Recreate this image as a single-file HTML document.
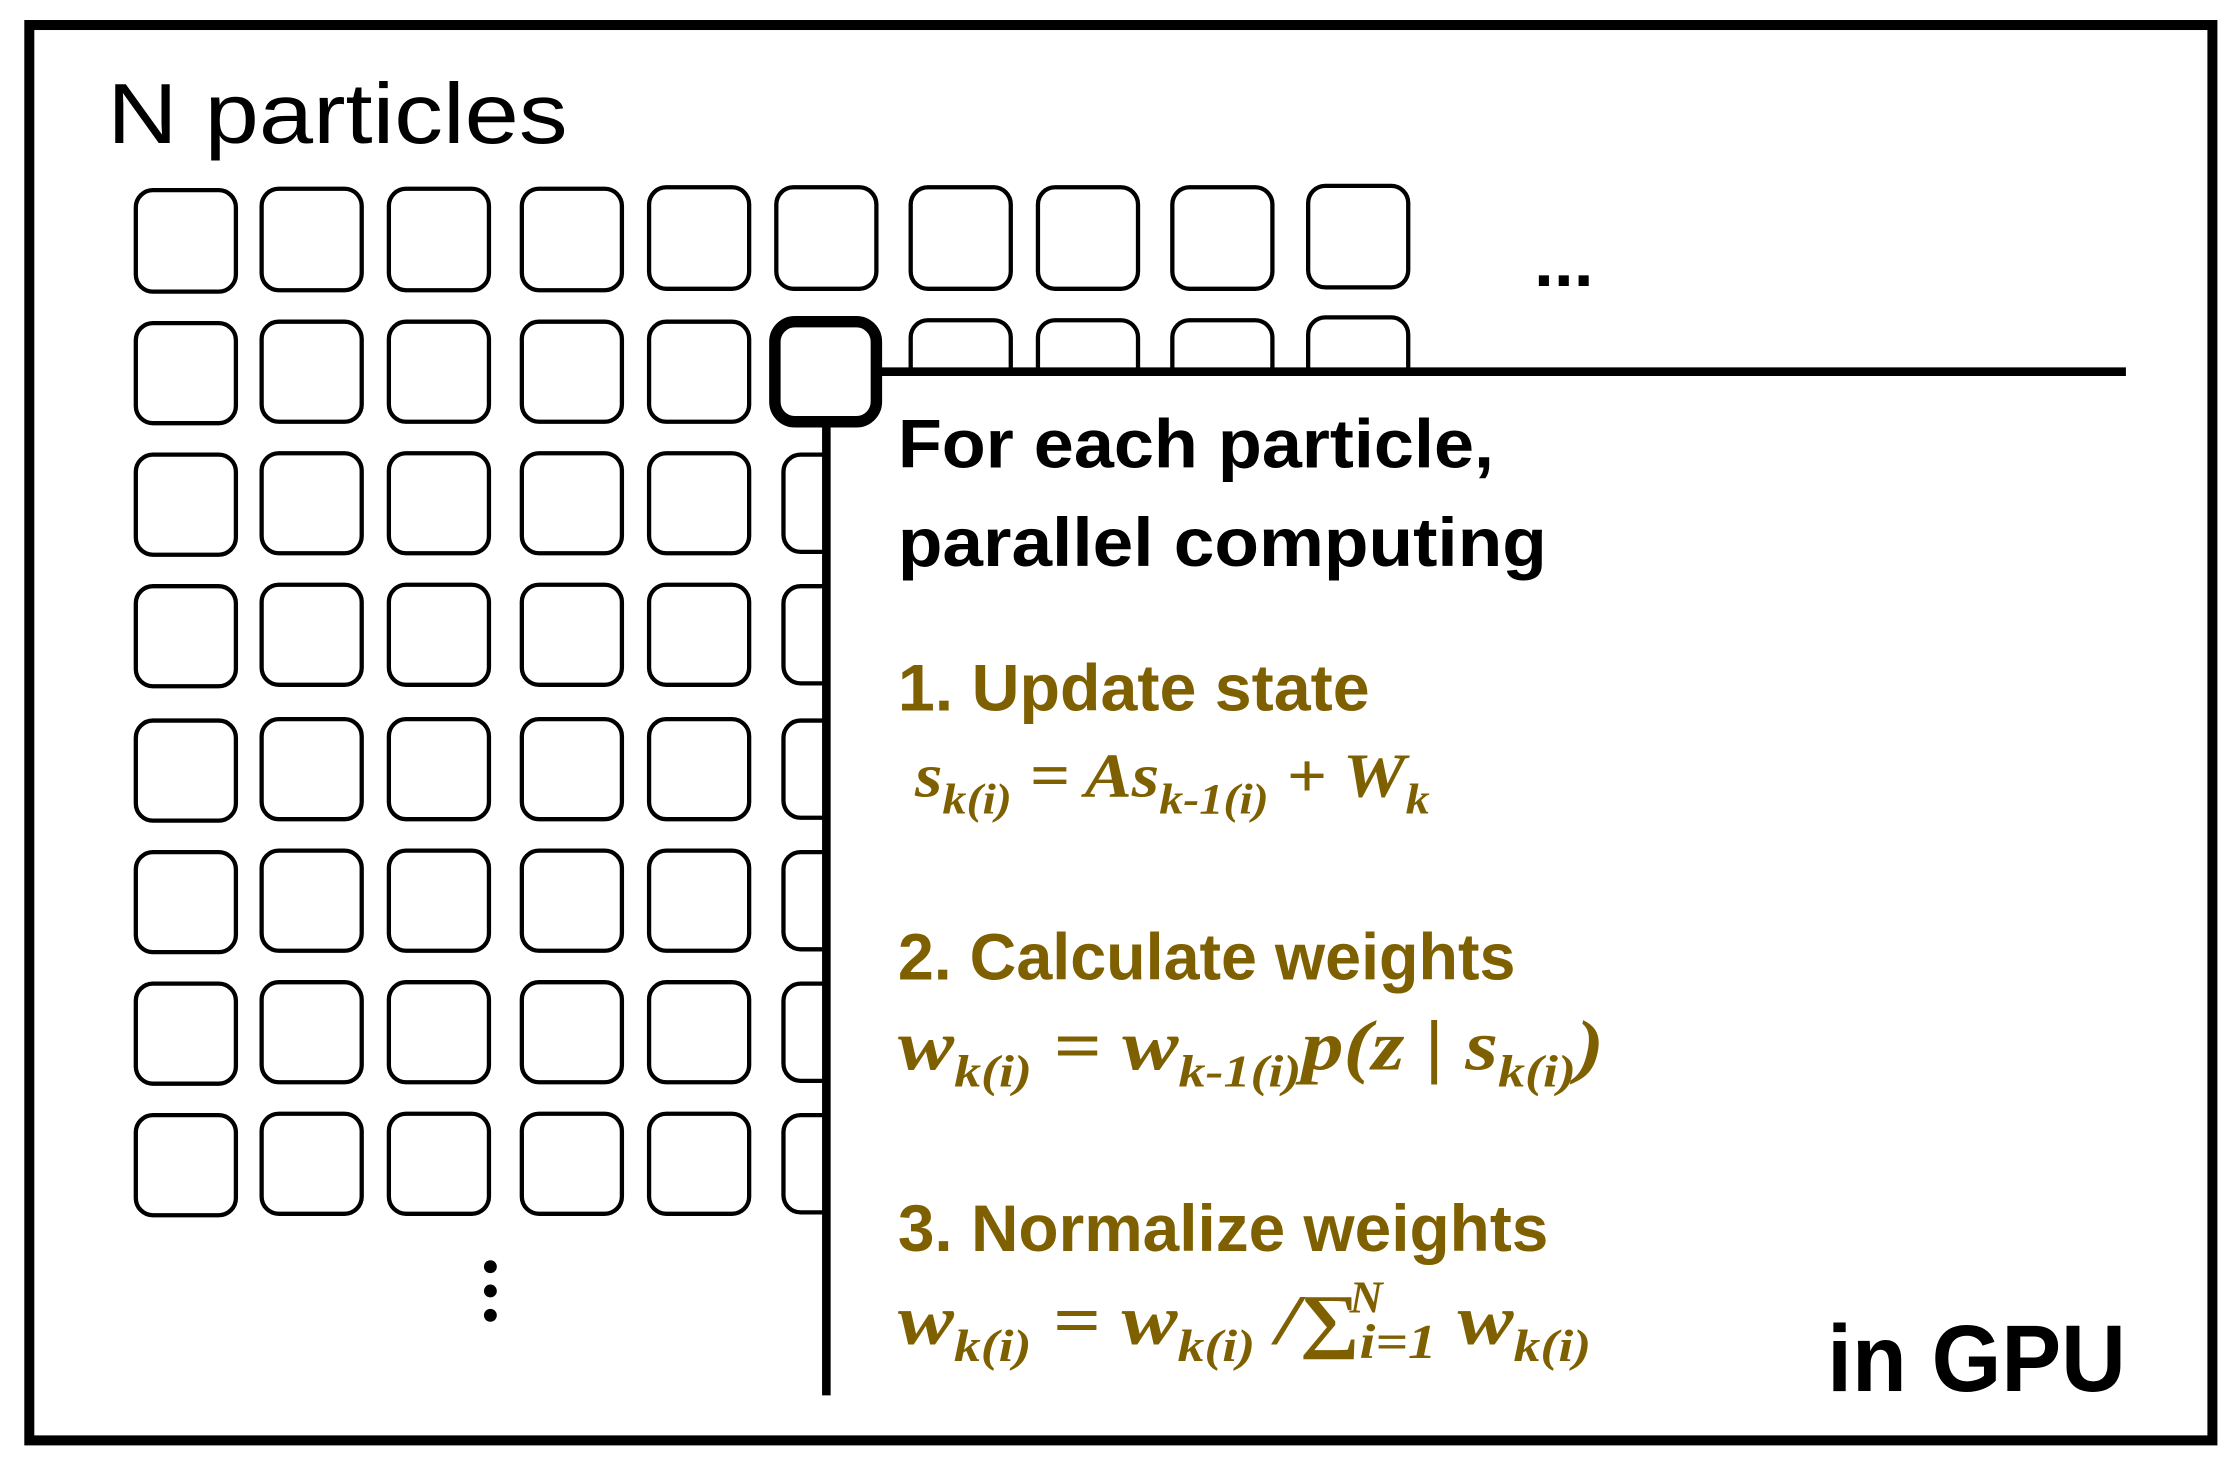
<!DOCTYPE html>
<html><head><meta charset="utf-8"><style>html,body{margin:0;padding:0;background:#fff}svg{display:block}</style></head>
<body>
<svg width="2236" height="1476" viewBox="0 0 1564 1032.4" xmlns="http://www.w3.org/2000/svg">
<defs>
<clipPath id="cv"><rect x="0" y="0" width="578" height="1032"/></clipPath>
<clipPath id="ch"><rect x="0" y="0" width="1564" height="263"/></clipPath>
</defs>
<rect x="20.5" y="17.5" width="1527" height="990" fill="none" stroke="#000" stroke-width="7"/>
<text x="75" y="100" font-family="Liberation Sans, sans-serif" font-size="60" textLength="322" lengthAdjust="spacingAndGlyphs">N particles</text>
<g fill="none" stroke="#000" stroke-width="3">
<!-- row 1 -->
<rect x="95" y="133" width="70" height="71" rx="12"/>
<rect x="183" y="132" width="70" height="71" rx="12"/>
<rect x="272" y="132" width="70" height="71" rx="12"/>
<rect x="365" y="132" width="70" height="71" rx="12"/>
<rect x="454" y="131" width="70" height="71" rx="12"/>
<rect x="543" y="131" width="70" height="71" rx="12"/>
<rect x="637" y="131" width="70" height="71" rx="12"/>
<rect x="726" y="131" width="70" height="71" rx="12"/>
<rect x="820" y="131" width="70" height="71" rx="12"/>
<rect x="915" y="130" width="70" height="71" rx="12"/>
<!-- rows 2-8 columns 1-5 -->
<g id="c">
<rect x="95" y="226" width="70" height="70" rx="12"/>
<rect x="183" y="225" width="70" height="70" rx="12"/>
<rect x="272" y="225" width="70" height="70" rx="12"/>
<rect x="365" y="225" width="70" height="70" rx="12"/>
<rect x="454" y="225" width="70" height="70" rx="12"/>
</g>
<use href="#c" y="92"/>
<use href="#c" y="184"/>
<use href="#c" y="278"/>
<use href="#c" y="370"/>
<use href="#c" y="462"/>
<use href="#c" y="554"/>
<!-- column 6 clipped -->
<g clip-path="url(#cv)">
<rect x="548" y="318" width="70" height="68" rx="12"/>
<rect x="548" y="410" width="70" height="68" rx="12"/>
<rect x="548" y="504" width="70" height="68" rx="12"/>
<rect x="548" y="596" width="70" height="68" rx="12"/>
<rect x="548" y="688" width="70" height="68" rx="12"/>
<rect x="548" y="780" width="70" height="68" rx="12"/>
</g>
<!-- row 2 clipped -->
<g clip-path="url(#ch)">
<rect x="637" y="224" width="70" height="70" rx="12"/>
<rect x="726" y="224" width="70" height="70" rx="12"/>
<rect x="820" y="224" width="70" height="70" rx="12"/>
<rect x="915" y="222" width="70" height="70" rx="12"/>
</g>
</g>
<rect x="542" y="225" width="71" height="70" rx="14" fill="none" stroke="#000" stroke-width="8"/>
<line x1="612" y1="260" x2="1487" y2="260" stroke="#000" stroke-width="6"/>
<line x1="578" y1="295" x2="578" y2="976" stroke="#000" stroke-width="6"/>
<text x="1073" y="200" font-family="Liberation Sans, sans-serif" font-size="50" font-weight="bold">...</text>
<g fill="#000"><circle cx="343" cy="886" r="4.5"/><circle cx="343" cy="903" r="4.5"/><circle cx="343" cy="920" r="4.5"/></g>
<g font-family="Liberation Sans, sans-serif" font-weight="bold">
<text x="628" y="327" font-size="48" textLength="417" lengthAdjust="spacingAndGlyphs">For each particle,</text>
<text x="628" y="396" font-size="48" textLength="454" lengthAdjust="spacingAndGlyphs">parallel computing</text>
<text x="1278" y="973" font-size="66" textLength="209" lengthAdjust="spacingAndGlyphs">in GPU</text>
<g fill="#7f6000">
<text x="628" y="497" font-size="46" textLength="330" lengthAdjust="spacingAndGlyphs">1. Update state</text>
<text x="628" y="685" font-size="46" textLength="432" lengthAdjust="spacingAndGlyphs">2. Calculate weights</text>
<text x="628" y="875" font-size="46" textLength="455" lengthAdjust="spacingAndGlyphs">3. Normalize weights</text>
</g>
</g>
<g font-family="Liberation Serif, serif" font-style="italic" font-weight="bold" fill="#7f6000">
<text x="640" y="557" font-size="44" textLength="360" lengthAdjust="spacingAndGlyphs">s<tspan font-size="30" dy="12">k(i)</tspan><tspan dy="-12"> = As</tspan><tspan font-size="30" dy="12">k-1(i)</tspan><tspan dy="-12"> + W</tspan><tspan font-size="30" dy="12">k</tspan></text>
<text x="628" y="748" font-size="50" textLength="494" lengthAdjust="spacingAndGlyphs">w<tspan font-size="32" dy="12">k(i)</tspan><tspan dy="-12"> = w</tspan><tspan font-size="32" dy="12">k-1(i)</tspan><tspan dy="-12">p(z | s</tspan><tspan font-size="32" dy="12">k(i)</tspan><tspan dy="-12">)</tspan></text>
<text x="628" y="940" font-size="50" textLength="485" lengthAdjust="spacingAndGlyphs">w<tspan font-size="32" dy="12">k(i)</tspan><tspan dy="-12"> = w</tspan><tspan font-size="32" dy="12">k(i)</tspan><tspan dy="-12"> /∑</tspan><tspan font-size="34" dy="10">i=1</tspan><tspan dy="-10"> w</tspan><tspan font-size="32" dy="12">k(i)</tspan></text>
<text x="944" y="918" font-size="32">N</text>
</g>
</svg>
</body></html>
